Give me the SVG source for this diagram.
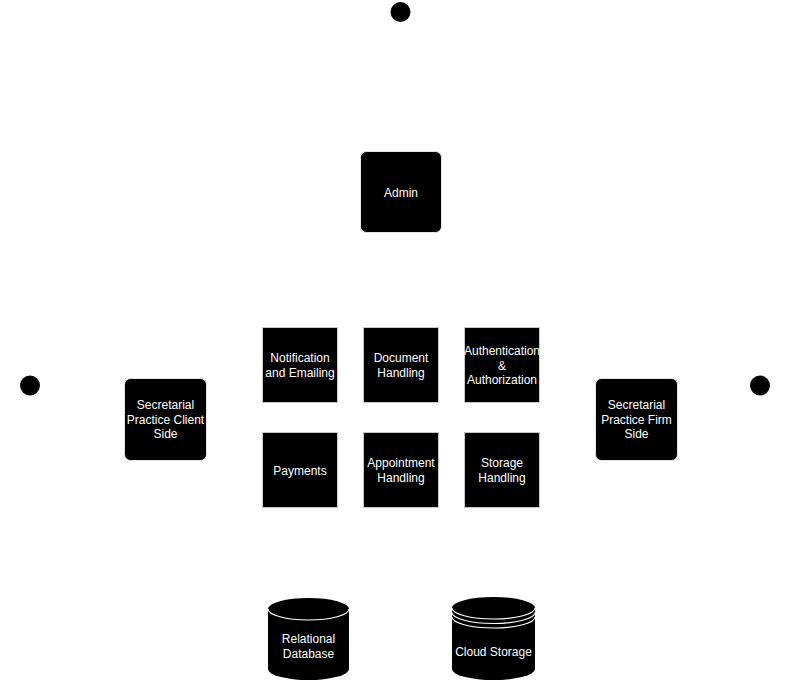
<svg xmlns="http://www.w3.org/2000/svg" width="786" height="682" viewBox="0 0 786 682">
<style>
.t{font-family:"Liberation Sans",Arial,sans-serif;font-size:12px;fill:#fff;text-anchor:middle}
.dot{fill:#000}
.rn{fill:#000;stroke:#e6e6e6;stroke-width:1}
.sq{fill:#000;stroke:#c8c8c8;stroke-width:1}
.cy{fill:#000}
.wl{fill:none;stroke:#fff;stroke-width:1.2}
</style>
<rect width="786" height="682" fill="#fff"/>
<g id="connectors"></g>
<g id="start-top"><circle class="dot" cx="400.5" cy="12" r="10"/></g>
<g id="start-left"><circle class="dot" cx="30" cy="385.5" r="10"/></g>
<g id="start-right"><circle class="dot" cx="760" cy="385.5" r="10"/></g>
<g id="admin"><rect class="rn" x="360.5" y="151.5" width="81" height="81" rx="6"/><text class="t" x="401" y="197">Admin</text></g>
<g id="client-side"><rect class="rn" x="124.5" y="378.5" width="82" height="82" rx="6"/><text class="t" x="165.5" y="409">Secretarial</text><text class="t" x="165.5" y="423.5">Practice Client</text><text class="t" x="165.5" y="438">Side</text></g>
<g id="firm-side"><rect class="rn" x="595.5" y="378.5" width="82" height="82" rx="6"/><text class="t" x="636.5" y="409">Secretarial</text><text class="t" x="636.5" y="423.5">Practice Firm</text><text class="t" x="636.5" y="438">Side</text></g>
<g id="notification"><rect class="sq" x="262.5" y="327.5" width="75" height="75"/><text class="t" x="300" y="362">Notification</text><text class="t" x="300" y="377">and Emailing</text></g>
<g id="document"><rect class="sq" x="363.5" y="327.5" width="75" height="75"/><text class="t" x="401" y="362">Document</text><text class="t" x="401" y="377">Handling</text></g>
<g id="auth"><rect class="sq" x="464.5" y="327.5" width="75" height="75"/><text class="t" x="502" y="355">Authentication</text><text class="t" x="502" y="369.5">&amp;</text><text class="t" x="502" y="384">Authorization</text></g>
<g id="payments"><rect class="sq" x="262.5" y="432.5" width="75" height="75"/><text class="t" x="300" y="474.5">Payments</text></g>
<g id="appointment"><rect class="sq" x="363.5" y="432.5" width="75" height="75"/><text class="t" x="401" y="467">Appointment</text><text class="t" x="401" y="482">Handling</text></g>
<g id="storage"><rect class="sq" x="464.5" y="432.5" width="75" height="75"/><text class="t" x="502" y="467">Storage</text><text class="t" x="502" y="482">Handling</text></g>
<g id="relational-db"><path class="cy" d="M268,609 A40.5,11 0 0 1 349,609 L349,669 A40.5,11 0 0 1 268,669 Z"/><path class="wl" d="M268,609 A40.5,11 0 0 0 349,609"/><text class="t" x="308.5" y="643">Relational</text><text class="t" x="308.5" y="658">Database</text></g>
<g id="cloud-storage"><path class="cy" d="M452,608 A41.5,11 0 0 1 535,608 L535,669 A41.5,11 0 0 1 452,669 Z"/><path class="wl" d="M452,608 A41.5,11 0 0 0 535,608"/><path class="wl" d="M452,612.5 A41.5,11 0 0 0 535,612.5"/><path class="wl" d="M452,617 A41.5,11 0 0 0 535,617"/><text class="t" x="493.5" y="656">Cloud Storage</text></g>
</svg>
